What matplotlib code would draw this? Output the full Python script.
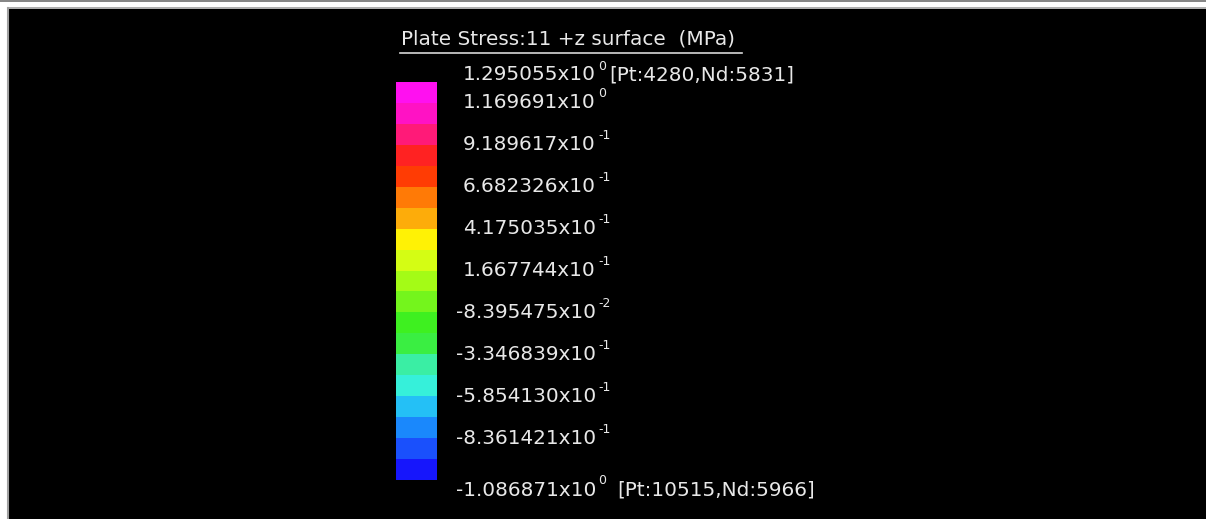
import numpy as np
import matplotlib
matplotlib.use("Agg")
import matplotlib.pyplot as plt
import matplotlib.transforms as mtransforms
from matplotlib.colors import ListedColormap, BoundaryNorm
from matplotlib.colorbar import ColorbarBase
from matplotlib.patches import Rectangle
from matplotlib.lines import Line2D

# ---- data -------------------------------------------------------------
title = "Plate Stress:11 +z surface  (MPa)"
v_max = 1.295055
v_min = -1.086871
max_tag = "[Pt:4280,Nd:5831]"
min_tag = "[Pt:10515,Nd:5966]"

# labelled contour levels (top to bottom): mantissa, exponent
level_mantissas = ["1.169691", "9.189617", "6.682326", "4.175035", "1.667744",
                   "-8.395475", "-3.346839", "-5.854130", "-8.361421"]
level_exponents = ["0", "-1", "-1", "-1", "-1", "-2", "-1", "-1", "-1"]
level_values = [1.169691, 0.9189617, 0.6682326, 0.4175035, 0.1667744,
                -0.08395475, -0.3346839, -0.5854130, -0.8361421]

# band colours, top band first
band_colors = ["#ff10f0", "#ff12c4", "#ff1a78", "#ff2222", "#ff3c04",
               "#ff7a06", "#fdac0a", "#fff205", "#d4fd14", "#a4fb16",
               "#74f51c", "#3ef020", "#3aee42", "#3aeea4", "#36f0da",
               "#24c0f6", "#1a88fc", "#1a50fc", "#1616fc"]

# ---- figure -----------------------------------------------------------
W, H = 1206, 519
fig = plt.figure(figsize=(W / 100, H / 100), dpi=100)
fig.patch.set_facecolor("black")

def fx(px):
    return px / W

def fy(py):
    return 1 - py / H

# window chrome: white strip on top and left with grey separator lines
fig.add_artist(Rectangle((0, fy(9)), 1, 9 / H, transform=fig.transFigure,
                         facecolor="white", edgecolor="none"))
fig.add_artist(Rectangle((0, 0), fx(7), 1, transform=fig.transFigure,
                         facecolor="white", edgecolor="none"))
fig.add_artist(Line2D([0, 1], [fy(0.5), fy(0.5)], transform=fig.transFigure,
                      color="#707070", lw=1.2))
fig.add_artist(Line2D([fx(7.5), 1], [fy(8), fy(8)], transform=fig.transFigure,
                      color="#a0a0a0", lw=1.2))
fig.add_artist(Line2D([fx(7.5), fx(7.5)], [0, fy(8)], transform=fig.transFigure,
                      color="#a0a0a0", lw=1.5))

# colour bar
bar_left, bar_right, bar_top, bar_bottom = 396, 437, 82, 480
cax = fig.add_axes([fx(bar_left), fy(bar_bottom), fx(bar_right - bar_left),
                    (bar_bottom - bar_top) / H])
levels = np.linspace(v_min, v_max, len(band_colors) + 1)
cmap = ListedColormap(band_colors[::-1])
norm = BoundaryNorm(levels, cmap.N)
cb = ColorbarBase(cax, cmap=cmap, norm=norm, boundaries=levels,
                  orientation="vertical")
cb.outline.set_visible(False)
cax.set_yticks([])
cax.set_xticks([])
cax.set_ylim(v_min, v_max)

txt_color = "#e8e8e8"
fs = 14.4
fs_sup = 9
trans = mtransforms.blended_transform_factory(fig.transFigure, cax.transData)
mant_right = fx(596)

def draw_label(value, mantissa, exponent, dy=0, tag=None, tag_x=None):
    cax.annotate(mantissa + "x10", xy=(mant_right, value), xycoords=trans,
                 xytext=(0, dy), textcoords="offset pixels",
                 ha="right", va="center", color=txt_color, fontsize=fs,
                 annotation_clip=False)
    cax.annotate(exponent, xy=(mant_right, value), xycoords=trans,
                 xytext=(2, dy + 9), textcoords="offset pixels",
                 ha="left", va="center", color=txt_color, fontsize=fs_sup,
                 annotation_clip=False)
    if tag is not None:
        cax.annotate(tag, xy=(fx(tag_x), value), xycoords=trans,
                     xytext=(0, dy), textcoords="offset pixels",
                     ha="left", va="center", color=txt_color, fontsize=fs,
                     annotation_clip=False)

draw_label(v_max, "1.295055", "0", dy=7, tag=max_tag, tag_x=609)
for val, m, e in zip(level_values, level_mantissas, level_exponents):
    draw_label(val, m, e)
draw_label(v_min, "-1.086871", "0", dy=-10, tag=min_tag, tag_x=617)

# title with underline
fig.text(fx(401), fy(39), title, ha="left", va="center", color=txt_color,
         fontsize=fs)
fig.add_artist(Line2D([fx(400), fx(742)], [fy(52.5), fy(52.5)],
                      transform=fig.transFigure, color="#d8d8d8", lw=1.2))

fig.savefig("out.png", dpi=100, facecolor=fig.get_facecolor())
